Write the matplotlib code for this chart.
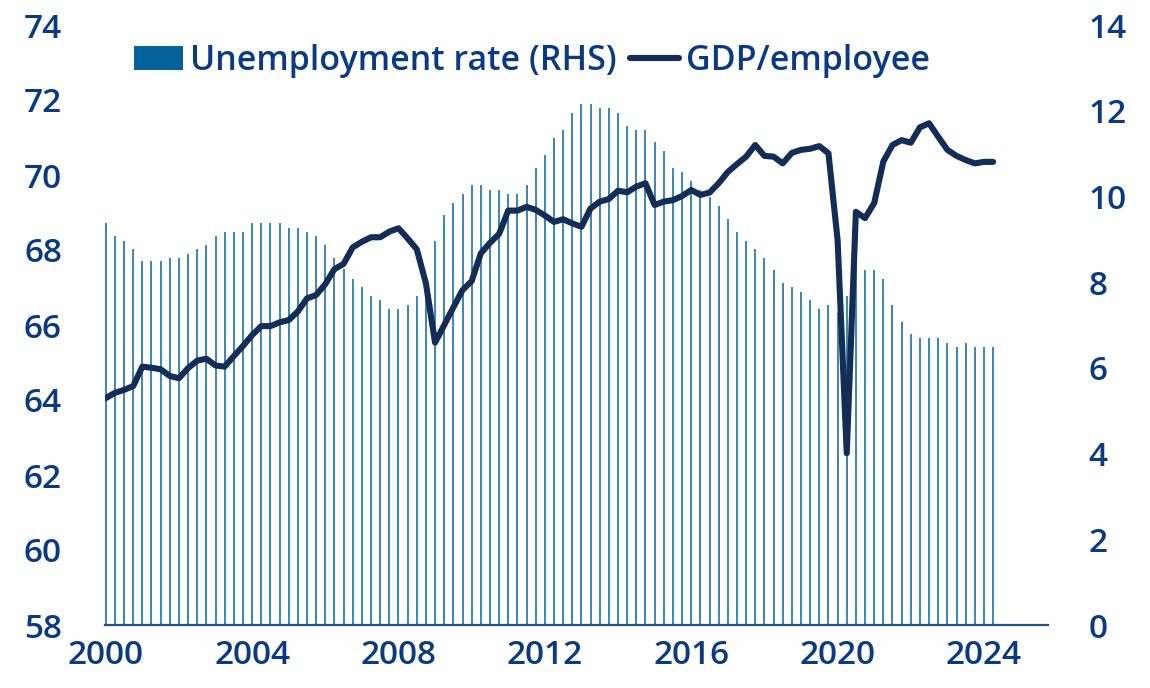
import matplotlib
matplotlib.use("Agg")
import matplotlib.pyplot as plt
from matplotlib.patches import Patch
from matplotlib.lines import Line2D
import numpy as np

# Quarterly series, 2000Q1 - 2024Q2
start_year = 2000
unemployment_rate = [
    9.39, 9.08, 8.96, 8.78, 8.49, 8.49, 8.49, 8.57, 8.57, 8.66,
    8.78, 8.87, 9.08, 9.17, 9.17, 9.17, 9.38, 9.38, 9.38, 9.38,
    9.26, 9.26, 9.17, 9.08, 8.87, 8.57, 8.30, 8.07, 7.89, 7.68,
    7.58, 7.37, 7.37, 7.47, 7.68, 8.00, 8.96, 9.56, 9.85, 10.06,
    10.27, 10.27, 10.16, 10.16, 10.06, 10.06, 10.27, 10.66, 10.96, 11.36,
    11.56, 11.95, 12.16, 12.16, 12.07, 12.07, 11.95, 11.65, 11.56, 11.56,
    11.26, 11.05, 10.66, 10.58, 10.37, 10.16, 9.98, 9.77, 9.47, 9.17,
    8.96, 8.78, 8.57, 8.28, 7.98, 7.89, 7.77, 7.58, 7.37, 7.47,
    7.29, 7.68, 8.60, 8.28, 8.28, 8.07, 7.47, 7.08, 6.78, 6.69,
    6.69, 6.69, 6.57, 6.48, 6.57, 6.48, 6.48, 6.48,
]
gdp_per_employee = [
    64.05, 64.19, 64.27, 64.37, 64.89, 64.86, 64.82, 64.64, 64.58, 64.85,
    65.05, 65.10, 64.92, 64.89, 65.17, 65.44, 65.73, 65.97, 65.97, 66.07,
    66.13, 66.36, 66.71, 66.80, 67.09, 67.49, 67.63, 68.07, 68.22, 68.34,
    68.34, 68.49, 68.58, 68.31, 68.02, 67.11, 65.53, 66.00, 66.47, 66.93,
    67.17, 67.91, 68.19, 68.43, 69.05, 69.05, 69.15, 69.07, 68.92, 68.75,
    68.82, 68.71, 68.62, 69.11, 69.29, 69.36, 69.58, 69.54, 69.69, 69.78,
    69.20, 69.29, 69.33, 69.44, 69.60, 69.47, 69.53, 69.78, 70.08, 70.29,
    70.49, 70.80, 70.51, 70.49, 70.31, 70.59, 70.67, 70.70, 70.77, 70.58,
    68.27, 62.58, 69.02, 68.85, 69.25, 70.36, 70.80, 70.93, 70.86, 71.27,
    71.38, 71.02, 70.67, 70.51, 70.40, 70.31, 70.35, 70.35,
]
year_ticks = [2000, 2004, 2008, 2012, 2016, 2020, 2024]
left_ticks = [58, 60, 62, 64, 66, 68, 70, 72, 74]
right_ticks = [0, 2, 4, 6, 8, 10, 12, 14]

TEXT = "#0b3a84"
LINE = "#132d57"
BAR = "#3f8ab2"
BAR_KEY = "#05629a"
AXIS = "#1f4f8f"

plt.rcParams["font.family"] = ["Open Sans", "DejaVu Sans"]
plt.rcParams["font.weight"] = 600

x = start_year + np.arange(len(unemployment_rate)) * 0.25

fig = plt.figure(figsize=(11.5, 6.88), dpi=100)
ax = fig.add_axes([105 / 1150, 1 - 625 / 688, (1048 - 105) / 1150, 600 / 688])
ax2 = ax.twinx()

# unemployment as thin bars on the right-hand axis, drawn behind the line
ax2.bar(x, unemployment_rate, width=0.055, color=BAR, align="center", zorder=1)
ax.set_zorder(ax2.get_zorder() + 1)
ax.patch.set_visible(False)
ax.plot(x, gdp_per_employee, color=LINE, lw=4.4, solid_joinstyle="round",
        solid_capstyle="round", zorder=3)

ax.set_xlim(1999.98, 2025.75)
ax.set_ylim(58, 74)
ax2.set_ylim(0, 14)

ax.set_xticks(year_ticks)
ax.set_xticklabels([str(y) for y in year_ticks])
ax.set_yticks(left_ticks)
ax2.set_yticks(right_ticks)

for a in (ax, ax2):
    for s in ("top", "left", "right", "bottom"):
        a.spines[s].set_visible(False)
ax.spines["bottom"].set_visible(True)
ax.spines["bottom"].set_color(AXIS)
ax.spines["bottom"].set_linewidth(1.6)

FS = 24
ax.tick_params(axis="x", length=0, pad=10, labelsize=FS, labelcolor=TEXT)
ax.tick_params(axis="y", length=0, pad=31, labelsize=FS, labelcolor=TEXT)
ax2.tick_params(axis="y", length=0, pad=29, labelsize=FS, labelcolor=TEXT)

handles = [Patch(facecolor=BAR_KEY, edgecolor="none"),
           Line2D([0], [0], color=LINE, lw=4.4, solid_capstyle="round")]
labels = ["Unemployment rate (RHS)", "GDP/employee"]
fig.legend(handles, labels, loc="center", ncol=2, frameon=False,
           bbox_to_anchor=(532 / 1150, 1 - 61 / 688), fontsize=24.5,
           labelcolor=TEXT, handlelength=1.45, handleheight=0.7,
           handletextpad=0.2, columnspacing=0.4, borderpad=0)

fig.savefig("out.png", dpi=100)
